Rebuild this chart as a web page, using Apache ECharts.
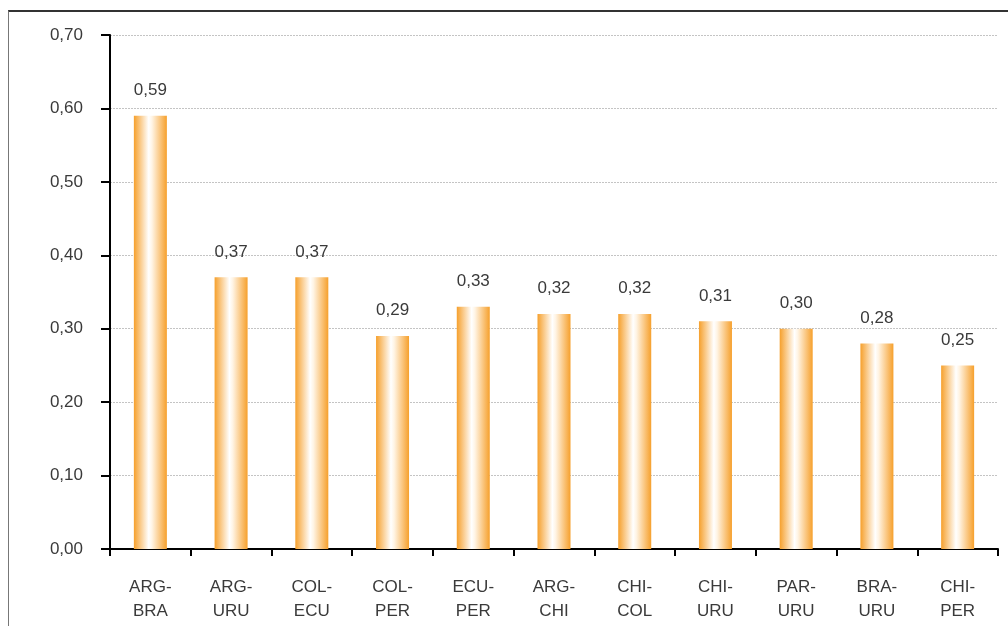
<!DOCTYPE html>
<html><head><meta charset="utf-8">
<script src="https://cdn.jsdelivr.net/npm/echarts@6/dist/echarts.min.js"></script>
<style>html,body{margin:0;padding:0;background:#fff}#c{width:1008px;height:626px}
#frame{position:absolute;left:8px;top:10px;width:1100px;height:700px;border-left:1px solid #777;border-top:2px solid #333;pointer-events:none}</style>
</head><body><div id="c"></div><div id="frame"></div>
<script>
const categories = ['ARG-\nBRA','ARG-\nURU','COL-\nECU','COL-\nPER','ECU-\nPER','ARG-\nCHI','CHI-\nCOL','CHI-\nURU','PAR-\nURU','BRA-\nURU','CHI-\nPER'];
const values = [0.59,0.37,0.37,0.29,0.33,0.32,0.32,0.31,0.30,0.28,0.25];
const fmt = v => v.toFixed(2).replace('.', ',');
const chart = echarts.init(document.getElementById('c'));
chart.setOption({
  animation:false,
  grid:{left:110,right:10,top:35,bottom:77},
  xAxis:{type:'category',data:categories,
    axisLine:{lineStyle:{color:'#000',width:2}},
    axisTick:{show:true,length:7,lineStyle:{color:'#000',width:2}},
    axisLabel:{color:'#3a3a3a',fontFamily:'Liberation Sans, Arial',fontSize:17,margin:26,lineHeight:24,interval:0}},
  yAxis:{type:'value',min:0,max:0.7,interval:0.1,
    axisLine:{show:true,lineStyle:{color:'#000',width:2}},
    axisTick:{show:true,length:9,lineStyle:{color:'#000',width:2}},
    splitLine:{lineStyle:{color:'#c4c4c4',type:[2,1],width:1}},
    axisLabel:{color:'#3a3a3a',fontFamily:'Liberation Sans, Arial',fontSize:17,margin:27,formatter:v=>fmt(v)}},
  series:[{type:'bar',data:values,barWidth:33,
    itemStyle:{color:new echarts.graphic.LinearGradient(0,0,1,0,[
      {offset:0,color:'#f6a02c'},{offset:0.45,color:'#ffffff'},{offset:0.55,color:'#fff4e4'},{offset:1,color:'#f6a02c'}])},
    label:{show:true,position:'top',distance:17,color:'#3a3a3a',fontFamily:'Liberation Sans, Arial',fontSize:17,formatter:p=>fmt(p.value)}}]
});
</script></body></html>
